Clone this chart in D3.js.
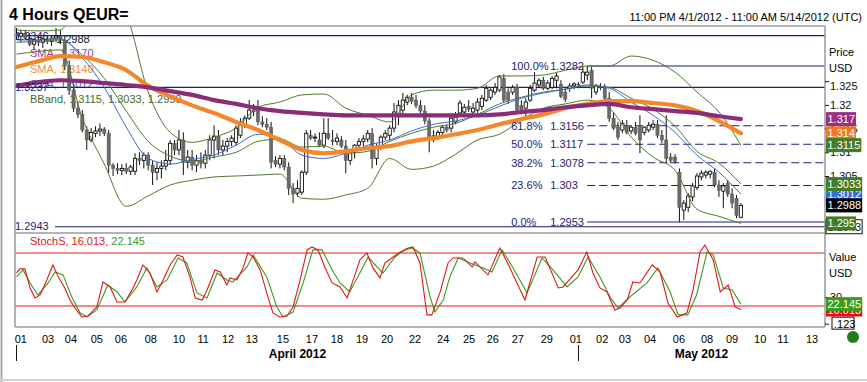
<!DOCTYPE html>
<html><head><meta charset="utf-8">
<script src="https://cdn.jsdelivr.net/npm/d3@7"></script>
<style>body{margin:0;background:#fff}svg{display:block;font-family:"Liberation Sans",Arial,sans-serif}</style>
</head><body><svg id="c" width="867" height="382"></svg>
<script>
// ---- data ----
const candles = [ // [open, high, low, close]
[1.3349,1.3362,1.3337,1.3345],[1.3345,1.3358,1.3332,1.3351],[1.3351,1.3358,1.3337,1.3341],[1.3341,1.3351,1.3324,1.3328],
[1.3328,1.3341,1.3316,1.3337],[1.3337,1.3345,1.3324,1.3332],[1.3332,1.3341,1.3320,1.3339],[1.3339,1.3345,1.3328,1.3334],
[1.3334,1.3347,1.3324,1.3341],[1.3341,1.3362,1.3332,1.3345],[1.3345,1.3358,1.3328,1.3337],[1.3337,1.3345,1.3273,1.3282],
[1.3282,1.3294,1.3221,1.3231],[1.3231,1.3242,1.3185,1.3193],[1.3193,1.3206,1.3172,1.3180],[1.3180,1.3189,1.3142,1.3147],
[1.3147,1.3155,1.3105,1.3126],[1.3126,1.3151,1.3121,1.3142],[1.3140,1.3155,1.3132,1.3145],[1.3145,1.3161,1.3134,1.3149],
[1.3149,1.3153,1.3134,1.3140],[1.3140,1.3147,1.3056,1.3073],[1.3073,1.3077,1.3050,1.3066],[1.3066,1.3077,1.3054,1.3062],
[1.3062,1.3075,1.3052,1.3066],[1.3066,1.3077,1.3054,1.3060],[1.3060,1.3073,1.3052,1.3069],[1.3060,1.3098,1.3052,1.3087],
[1.3087,1.3100,1.3073,1.3083],[1.3083,1.3100,1.3066,1.3094],[1.3094,1.3100,1.3062,1.3073],[1.3073,1.3083,1.3031,1.3058],
[1.3058,1.3079,1.3041,1.3066],[1.3066,1.3083,1.3045,1.3071],[1.3071,1.3105,1.3062,1.3083],[1.3083,1.3126,1.3073,1.3119],
[1.3119,1.3126,1.3094,1.3105],[1.3105,1.3147,1.3094,1.3126],[1.3126,1.3142,1.3052,1.3079],[1.3079,1.3105,1.3066,1.3090],
[1.3090,1.3105,1.3062,1.3073],[1.3073,1.3094,1.3058,1.3083],[1.3083,1.3100,1.3066,1.3077],[1.3077,1.3105,1.3066,1.3094],
[1.3094,1.3136,1.3083,1.3126],[1.3126,1.3157,1.3087,1.3134],[1.3134,1.3147,1.3094,1.3105],[1.3105,1.3126,1.3094,1.3113],
[1.3113,1.3130,1.3100,1.3123],[1.3123,1.3136,1.3113,1.3130],[1.3121,1.3157,1.3113,1.3151],[1.3136,1.3172,1.3130,1.3164],
[1.3157,1.3178,1.3151,1.3172],[1.3172,1.3210,1.3168,1.3189],[1.3189,1.3202,1.3176,1.3185],[1.3195,1.3210,1.3157,1.3164],
[1.3164,1.3176,1.3153,1.3159],[1.3159,1.3172,1.3147,1.3153],[1.3153,1.3164,1.3066,1.3079],[1.3083,1.3092,1.3069,1.3075],
[1.3075,1.3094,1.3066,1.3087],[1.3087,1.3094,1.3062,1.3069],[1.3069,1.3079,1.3010,1.3024],[1.3024,1.3035,1.2993,1.3012],
[1.3014,1.3041,1.3006,1.3024],[1.3016,1.3062,1.3010,1.3058],[1.3058,1.3147,1.3052,1.3140],[1.3136,1.3147,1.3126,1.3130],
[1.3130,1.3140,1.3121,1.3132],[1.3126,1.3142,1.3111,1.3115],[1.3115,1.3172,1.3109,1.3140],[1.3140,1.3172,1.3126,1.3130],
[1.3126,1.3147,1.3115,1.3123],[1.3123,1.3140,1.3115,1.3130],[1.3126,1.3134,1.3109,1.3113],[1.3113,1.3126,1.3056,1.3083],
[1.3083,1.3105,1.3073,1.3100],[1.3100,1.3117,1.3087,1.3115],[1.3115,1.3130,1.3109,1.3123],[1.3123,1.3136,1.3113,1.3128],
[1.3128,1.3147,1.3121,1.3140],[1.3140,1.3151,1.3066,1.3087],[1.3087,1.3119,1.3073,1.3111],[1.3111,1.3136,1.3105,1.3132],
[1.3132,1.3147,1.3126,1.3140],[1.3136,1.3157,1.3126,1.3151],[1.3151,1.3204,1.3142,1.3185],[1.3178,1.3210,1.3157,1.3199],
[1.3189,1.3225,1.3180,1.3210],[1.3206,1.3221,1.3199,1.3216],[1.3216,1.3225,1.3202,1.3208],[1.3210,1.3221,1.3193,1.3199],
[1.3199,1.3210,1.3183,1.3187],[1.3187,1.3199,1.3159,1.3166],[1.3166,1.3172,1.3100,1.3130],[1.3136,1.3147,1.3121,1.3126],
[1.3132,1.3147,1.3126,1.3142],[1.3142,1.3157,1.3136,1.3153],[1.3153,1.3159,1.3142,1.3147],[1.3151,1.3178,1.3142,1.3172],
[1.3164,1.3185,1.3159,1.3174],[1.3183,1.3210,1.3176,1.3204],[1.3185,1.3202,1.3178,1.3195],[1.3197,1.3210,1.3185,1.3191],
[1.3185,1.3204,1.3178,1.3193],[1.3189,1.3214,1.3183,1.3206],[1.3197,1.3221,1.3189,1.3214],[1.3210,1.3242,1.3206,1.3235],
[1.3216,1.3235,1.3210,1.3231],[1.3227,1.3246,1.3221,1.3237],[1.3231,1.3263,1.3227,1.3259],[1.3256,1.3265,1.3206,1.3210],
[1.3227,1.3235,1.3202,1.3210],[1.3227,1.3242,1.3221,1.3237],[1.3237,1.3244,1.3183,1.3189],[1.3199,1.3210,1.3180,1.3185],
[1.3193,1.3214,1.3172,1.3206],[1.3210,1.3242,1.3206,1.3235],[1.3231,1.3269,1.3227,1.3246],[1.3242,1.3256,1.3235,1.3252],
[1.3252,1.3259,1.3231,1.3235],[1.3235,1.3252,1.3231,1.3246],[1.3237,1.3261,1.3233,1.3256],[1.3252,1.3267,1.3235,1.3261],
[1.3244,1.3252,1.3214,1.3218],[1.3227,1.3235,1.3206,1.3212],[1.3235,1.3246,1.3227,1.3240],[1.3240,1.3248,1.3233,1.3244],
[1.3244,1.3248,1.3235,1.3242],[1.3248,1.3280,1.3244,1.3269],[1.3263,1.3282,1.3252,1.3269],[1.3273,1.3280,1.3214,1.3235],
[1.3227,1.3244,1.3221,1.3240],[1.3240,1.3246,1.3231,1.3237],[1.3237,1.3244,1.3210,1.3214],[1.3214,1.3227,1.3164,1.3172],
[1.3172,1.3185,1.3147,1.3151],[1.3153,1.3164,1.3126,1.3132],[1.3147,1.3168,1.3140,1.3161],[1.3157,1.3168,1.3138,1.3142],
[1.3145,1.3157,1.3138,1.3153],[1.3153,1.3164,1.3136,1.3140],[1.3157,1.3178,1.3098,1.3126],[1.3142,1.3155,1.3136,1.3153],
[1.3147,1.3164,1.3142,1.3157],[1.3153,1.3168,1.3147,1.3159],[1.3159,1.3168,1.3130,1.3136],[1.3136,1.3147,1.3119,1.3126],
[1.3126,1.3178,1.3079,1.3087],[1.3090,1.3098,1.3077,1.3083],[1.3090,1.3096,1.3077,1.3081],[1.3058,1.3066,1.2953,1.2984],
[1.2978,1.2999,1.2957,1.2993],[1.2984,1.3014,1.2974,1.3008],[1.3006,1.3035,1.2997,1.3029],[1.3026,1.3056,1.3020,1.3050],
[1.3048,1.3062,1.3041,1.3056],[1.3052,1.3062,1.3045,1.3058],[1.3054,1.3062,1.3045,1.3060],[1.3058,1.3066,1.3026,1.3031],
[1.3031,1.3041,1.3006,1.3020],[1.3018,1.3035,1.2982,1.3029],[1.3035,1.3041,1.3006,1.3012],[1.3012,1.3024,1.2982,1.2993],
[1.3003,1.3010,1.2961,1.2967],[1.2963,1.2993,1.2961,1.2988]
];
// indicator lines, read every 5 bars
const indIdx = [0,5,10,15,20,25,30,35,40,45,50,55,60,65,70,75,80,85,90,95,100,105,110,115,120,125,130,135,140,145,150,155,160,165];
const smaSlow = [1.3240,1.3248,1.3252,1.3250,1.3246,1.3242,1.3237,1.3229,1.3221,1.3210,1.3202,1.3193,1.3187,1.3183,1.3180,1.3178,1.3178,1.3178,1.3178,1.3178,1.3178,1.3178,1.3180,1.3185,1.3189,1.3195,1.3199,1.3202,1.3195,1.3191,1.3187,1.3183,1.3176,1.3170];
const smaMid = [1.3280,1.3292,1.3303,1.3301,1.3290,1.3273,1.3240,1.3218,1.3199,1.3183,1.3164,1.3147,1.3126,1.3105,1.3098,1.3102,1.3109,1.3113,1.3123,1.3130,1.3138,1.3147,1.3159,1.3170,1.3180,1.3193,1.3202,1.3208,1.3208,1.3204,1.3199,1.3187,1.3166,1.3140];
const smaFast = [1.3337,1.3337,1.3339,1.3299,1.3237,1.3153,1.3087,1.3075,1.3085,1.3094,1.3115,1.3138,1.3130,1.3094,1.3087,1.3098,1.3115,1.3126,1.3145,1.3159,1.3166,1.3178,1.3197,1.3214,1.3225,1.3233,1.3242,1.3235,1.3206,1.3178,1.3142,1.3094,1.3058,1.3012];
const bbUpper = [1.3358,1.3356,1.3358,1.3427,1.3434,1.3389,1.3227,1.3142,1.3121,1.3132,1.3151,1.3195,1.3206,1.3221,1.3223,1.3193,1.3178,1.3164,1.3221,1.3231,1.3231,1.3235,1.3261,1.3261,1.3263,1.3273,1.3282,1.3282,1.3303,1.3294,1.3269,1.3227,1.3185,1.3115];
const bbMiddle = [1.3332,1.3334,1.3337,1.3305,1.3256,1.3187,1.3123,1.3092,1.3081,1.3090,1.3100,1.3123,1.3128,1.3111,1.3113,1.3098,1.3102,1.3123,1.3140,1.3153,1.3161,1.3180,1.3202,1.3216,1.3227,1.3233,1.3240,1.3237,1.3214,1.3191,1.3155,1.3102,1.3077,1.3033];
const bbLower = [1.3307,1.3313,1.3316,1.3172,1.3075,1.2986,1.3008,1.3031,1.3041,1.3048,1.3050,1.3052,1.3054,1.3003,1.3001,1.3010,1.3024,1.3087,1.3064,1.3071,1.3096,1.3126,1.3138,1.3168,1.3193,1.3202,1.3210,1.3193,1.3132,1.3090,1.3062,1.2980,1.2965,1.2950];
const stochK = [[0,57.4],[0.8,62],[1.9,62],[3.1,40.4],[4.2,29],[5.4,32.5],[6.9,49.5],[8.3,66.5],[9.5,53],[11,40.4],[12.2,26.8],[13.3,17.8],[14.9,7.6],[16.3,8.7],[18.3,18.9],[19.7,47.2],[21.3,41.6],[22.9,24.6],[24.7,24.6],[26.3,38.2],[27.4,49.5],[28.8,66.5],[30.4,57.4],[32,35.9],[33.4,49.5],[35,66.5],[36.6,77.8],[37.9,75.5],[39.5,52.9],[40.7,29.1],[42.3,26.8],[43.4,38.2],[45.2,60.8],[46.4,58.5],[47.9,43.8],[48.6,51.8],[50.2,49.5],[51.6,63.1],[52.7,80.1],[53.9,75.5],[55.5,60.8],[57,34.8],[58.4,12.1],[60,7.6],[61.6,8.7],[63,18.9],[64.6,49.5],[66.2,83.5],[67.3,86.9],[68.7,83.5],[70.3,63.1],[71.9,46.1],[73.7,41.6],[75.3,29.1],[76.7,49.5],[78.2,72.1],[79.8,80.1],[81.2,63.1],[82.8,51.8],[83.9,68.7],[85.8,75.5],[87.4,81.2],[89.2,85.7],[90.3,86.9],[91.9,68.7],[93.5,9.9],[94.6,9.9],[96.5,35.9],[98.3,68.7],[99.4,74.4],[101.7,74.4],[103.8,64.2],[104.4,69.9],[107.4,55.2],[110.1,85.7],[112.4,63.1],[115.8,26.8],[118.6,75.5],[120.4,75.5],[123.4,40.4],[124.5,41.6],[126.5,52.9],[127.9,60.8],[129.9,81.2],[131.3,57.4],[132.9,40.4],[134.5,35.9],[136.3,15.5],[137.5,17.8],[139.1,26.8],[140.4,47.2],[142,46.1],[144.8,66.5],[146.6,58.5],[148.4,23.4],[150.5,7.6],[152.7,12.1],[154.1,38.2],[155.7,81.2],[156.8,89.1],[158.7,72.1],[160.3,35.9],[162.1,43.8],[163.7,18.9],[165,16.013]];
const stochD = [[0,52.9],[1.5,60.8],[3.1,46.1],[4.9,32.5],[7.2,46.1],[8.8,58.5],[10.6,55.2],[12.6,30.2],[14.5,12.1],[16.1,7.6],[18.3,15.5],[20.8,43.8],[22.9,35.9],[24.7,24.6],[27.4,41.6],[29.7,63.1],[32,41.6],[34.3,49.5],[36.8,74.4],[38.8,68.7],[41.1,34.8],[43.4,29.1],[45.7,57.4],[47.9,49.5],[49.3,47.2],[52.5,64.2],[53.9,77.8],[57,52.9],[59.3,18.9],[60.7,7.6],[63,13.2],[65.3,46.1],[67.5,83.5],[69.6,83.5],[71.9,60.8],[73.7,46.1],[75.9,35.9],[78.2,57.4],[80.1,75.5],[82.1,64.2],[83.5,57.4],[86.2,75.5],[88.5,83.5],[90.1,85.7],[91.9,80.1],[94.2,30.2],[95.3,13.2],[97.2,26.8],[98.7,52.9],[100.6,74.4],[103.3,68.7],[106.3,63.1],[108.3,58.5],[110.6,83.5],[113.1,63.1],[116.3,34.8],[119.7,74.4],[122.2,60.8],[125.4,41.6],[127.9,52.9],[130.2,75.5],[132.9,52.9],[135.2,30.2],[137,17.8],[139.7,30.2],[143.6,46.1],[146.1,63.1],[148.9,35.9],[150.7,9.9],[152.9,9.9],[154.9,32.5],[157.3,81.2],[158.7,77.8],[161,40.4],[163,38.2],[165,22.145]];
const stochLevels = [80, 20];
const hLines = [1.3346, 1.3237, 1.2943];
const fibPct = ["100.0%","61.8%","50.0%","38.2%","23.6%","0.0%"];
const fibVal = [1.3282,1.3156,1.3117,1.3078,1.303,1.2953];
const fibStartIdx = 130;
const priceTicks = [1.305,1.31,1.315,1.32,1.325];
const dayLabels = ["01","03","04","05","06","08","10","11","12","13","15","17","18","19","20","22","24","25","26","27","29","01","02","03","04","06","08","09","10","11","13"];
const dayIdx = [1.0,7.2,12.4,18.3,23.8,30.6,37.0,42.5,48.2,53.6,60.7,67.3,73.0,78.7,84.4,90.8,97.2,103.1,108.5,114.2,120.8,127.4,133.4,138.6,144.3,150.9,157.3,163.0,169.4,174.6,181.2];
const monthLabels = ["April 2012","May 2012"];
const monthLabelIdx = [64, 156];
const monthStartIdx = [0, 128];

// ---- drawing ----
const svg = d3.select("#c");
const fmt = d3.format(".4~f");
const NAVY = "#1c1c74";
const x = d3.scaleLinear().domain([0,165]).range([16.5,740.9]);
const y = d3.scaleLinear().domain([1.2953,1.3282]).range([222,66]);
const ys = d3.scaleLinear().domain([20,80]).range([306,253]);
const L=15, R=825, T=26, MB=233, SB=327;

const defs = svg.append("defs");
defs.append("clipPath").attr("id","cpM").append("rect").attr("x",L).attr("y",T).attr("width",R-L).attr("height",MB-T);
defs.append("clipPath").attr("id","cpS").append("rect").attr("x",L).attr("y",MB).attr("width",R-L).attr("height",SB-MB);

// outer frame
svg.append("line").attr("x1",1.5).attr("x2",1.5).attr("y1",0).attr("y2",382).attr("stroke","#a8a8a8").attr("stroke-width",2);
svg.append("line").attr("x1",0).attr("x2",867).attr("y1",380).attr("y2",380).attr("stroke","#d0d0d0").attr("stroke-width",2);

// titles
svg.append("text").attr("x",9).attr("y",20).attr("font-size",16).attr("font-weight","bold").text("4 Hours QEUR=");
svg.append("text").attr("x",862).attr("y",21).attr("font-size",11).attr("text-anchor","end").text("11:00 PM 4/1/2012 - 11:00 AM 5/14/2012 (UTC)");

// legend texts (under chart marks)
const leg = svg.append("g").attr("font-size",11);
leg.append("text").attr("x",56).attr("y",43).attr("fill","#111").text("1.2988");
leg.append("text").attr("x",30).attr("y",57).attr("fill","#a0407e").text("SMA, " + fmt(smaSlow[smaSlow.length-1]).padEnd(6,"0"));
leg.append("text").attr("x",30).attr("y",73).attr("fill","#e8903a").text("SMA, " + fmt(smaMid[smaMid.length-1]).padEnd(6,"0"));
leg.append("text").attr("x",30).attr("y",88).attr("fill","#3f63d6").text("SMA, " + fmt(smaFast[smaFast.length-1]));
leg.append("text").attr("x",30).attr("y",103).attr("fill","#45692b").text("BBand, " + [bbUpper,bbMiddle,bbLower].map(a=>fmt(a[a.length-1]).padEnd(6,"0")).join(", "));

const main = svg.append("g").attr("clip-path","url(#cpM)");

// horizontal navy lines
hLines.forEach((v,i)=>{
  main.append("line").attr("x1", i===2?55:L).attr("x2",R).attr("y1",y(v)).attr("y2",y(v)).attr("stroke",NAVY).attr("stroke-width",1.2);
  svg.append("text").attr("x",15).attr("y",y(v)+ (i===2?3.5:4)).attr("font-size",11).attr("fill",NAVY).text(fmt(v));
});

// fibonacci
fibVal.forEach((v,i)=>{
  const solid = (i===0 || i===fibVal.length-1);
  main.append("line").attr("x1",x(fibStartIdx)).attr("x2",R).attr("y1",y(v)).attr("y2",y(v))
    .attr("stroke",NAVY).attr("stroke-width",1.2).attr("stroke-dasharray", solid?null:"8,4");
  svg.append("text").attr("x",x(fibStartIdx)-76).attr("y",y(v)+4).attr("font-size",11).attr("fill",NAVY).text(fibPct[i]);
  svg.append("text").attr("x",x(fibStartIdx)-37).attr("y",y(v)+4).attr("font-size",11).attr("fill",NAVY).text(fmt(v));
});

// candles
const cg = main.append("g");
candles.forEach((c,i)=>{
  const [o,h,l,cl] = c; const up = cl>=o;
  cg.append("line").attr("x1",x(i)).attr("x2",x(i)).attr("y1",y(h)).attr("y2",y(l)).attr("stroke","#111").attr("stroke-width",1);
  const top = y(Math.max(o,cl)), bot = y(Math.min(o,cl));
  cg.append("rect").attr("x",x(i)-1.6).attr("y",top).attr("width",3.2).attr("height",Math.max(1,bot-top))
    .attr("fill", up?"#fff":"#6a6a6a").attr("stroke", up?"#111":"#555").attr("stroke-width", up?0.9:0.5);
});

// indicator lines
const lineGen = d3.line().x((d,i)=>x(indIdx[i])).y(d=>y(d)).curve(d3.curveMonotoneX);
[bbUpper,bbMiddle,bbLower].forEach(a=>main.append("path").attr("d",lineGen(a)).attr("fill","none").attr("stroke","#4f7a2e").attr("stroke-width",1));
main.append("path").attr("d",lineGen(smaFast)).attr("fill","none").attr("stroke","#3a6ad8").attr("stroke-width",1);
main.append("path").attr("d",lineGen(smaMid)).attr("fill","none").attr("stroke","#f5862a").attr("stroke-width",4.2).attr("stroke-linecap","round");
main.append("path").attr("d",lineGen(smaSlow)).attr("fill","none").attr("stroke","#8b2c78").attr("stroke-width",4.2).attr("stroke-linecap","round");

// stoch panel
const st = svg.append("g").attr("clip-path","url(#cpS)");
stochLevels.forEach(v=>st.append("line").attr("x1",L).attr("x2",R).attr("y1",ys(v)).attr("y2",ys(v)).attr("stroke","#e01818").attr("stroke-width",1.2));
const sLine = d3.line().x(d=>x(d[0])).y(d=>ys(d[1]));
st.append("path").attr("d",sLine(stochD)).attr("fill","none").attr("stroke","#3c9a22").attr("stroke-width",1.1);
st.append("path").attr("d",sLine(stochK)).attr("fill","none").attr("stroke","#e01818").attr("stroke-width",1.1);
const sl = svg.append("text").attr("x",30).attr("y",245).attr("font-size",11);
sl.append("tspan").attr("fill","#d42020").text("StochS, " + d3.format(".3f")(stochK[stochK.length-1][1]) + ", ");
sl.append("tspan").attr("fill","#3c9a22").text(d3.format(".3f")(stochD[stochD.length-1][1]));

// frames
const fr = svg.append("g").attr("stroke","#9a9a9a").attr("stroke-width",1.5);
fr.append("line").attr("x1",L).attr("x2",R).attr("y1",T).attr("y2",T);
fr.append("line").attr("x1",L).attr("x2",R).attr("y1",MB).attr("y2",MB);
fr.append("line").attr("x1",L).attr("x2",R).attr("y1",SB).attr("y2",SB);
fr.append("line").attr("x1",L).attr("x2",L).attr("y1",T).attr("y2",SB);
fr.append("line").attr("x1",R).attr("x2",R).attr("y1",T).attr("y2",SB);

// right price axis
const ax = svg.append("g").attr("transform",`translate(${R},0)`)
  .call(d3.axisRight(y).tickValues(priceTicks).tickFormat(fmt).tickSize(4).tickPadding(1));
ax.select(".domain").remove();
ax.selectAll("text").attr("font-size",11).attr("font-family","Liberation Sans, Arial").attr("fill","#111")
  .attr("dy", d => d===1.325 ? "0.75em" : "0.32em");
ax.selectAll("line").attr("stroke","#111");
svg.append("text").attr("x",829).attr("y",56).attr("font-size",11).text("Price");
svg.append("text").attr("x",829).attr("y",72).attr("font-size",11).text("USD");

function valBox(yy, txt, fill, color, stroke){
  const g = svg.append("g");
  const r = g.append("rect").attr("x",826).attr("y",yy-7).attr("height",14).attr("fill",fill);
  const t = g.append("text").attr("x",827.5).attr("y",yy+4).attr("font-size",11).attr("fill",color).text(txt);
  const w = t.node().getComputedTextLength()+2.5;
  r.attr("width",w);
  if(stroke) r.attr("stroke",stroke).attr("stroke-width",1);
}
valBox(y(smaSlow[smaSlow.length-1]), fmt(smaSlow[smaSlow.length-1]), "#9a2f86", "#fff");
valBox(y(smaMid[smaMid.length-1]), fmt(smaMid[smaMid.length-1]), "#f07818", "#fff");
valBox(y(bbUpper[bbUpper.length-1]), fmt(bbUpper[bbUpper.length-1]), "#437c27", "#fff");
valBox(y(smaFast[smaFast.length-1]), fmt(smaFast[smaFast.length-1]), "#2f6fd6", "#fff");
valBox(y(bbMiddle[bbMiddle.length-1]), fmt(bbMiddle[bbMiddle.length-1]), "#437c27", "#fff");
valBox(y(candles[candles.length-1][3]), fmt(candles[candles.length-1][3]), "#000", "#fff");
valBox(y(hLines[2]), fmt(hLines[2]), "#fff", "#111", "#111");
valBox(y(bbLower[bbLower.length-1]), fmt(bbLower[bbLower.length-1]), "#437c27", "#fff");

// stoch right axis
svg.append("text").attr("x",829).attr("y",261).attr("font-size",11).text("Value");
svg.append("text").attr("x",829).attr("y",277).attr("font-size",11).text("USD");
const ax2 = svg.append("g").attr("transform",`translate(${R},0)`)
  .call(d3.axisRight(ys).tickValues([0,30]).tickFormat(d=>d===0?"":d).tickSize(4).tickPadding(1));
ax2.select(".domain").remove();
ax2.selectAll("text").attr("font-size",11).attr("font-family","Liberation Sans, Arial").attr("fill","#111");
ax2.selectAll("line").attr("stroke","#111");
svg.append("rect").attr("x",832).attr("y",ys(0)-6.5).attr("width",22).attr("height",12).attr("fill","#fff").attr("stroke","#111");
svg.append("text").attr("x",834).attr("y",ys(0)+4).attr("font-size",11).text(".123");
valBox(ys(stochK[stochK.length-1][1]), d3.format(".3f")(stochK[stochK.length-1][1]), "#e01010", "#fff");
valBox(ys(stochD[stochD.length-1][1]), d3.format(".3f")(stochD[stochD.length-1][1]), "#3c9a1c", "#fff");

// x axis labels
dayLabels.forEach((d,i)=>{
  svg.append("text").attr("x",x(dayIdx[i])).attr("y",343).attr("font-size",11).attr("text-anchor","middle").text(d);
});
monthLabels.forEach((m,i)=>{
  svg.append("text").attr("x",x(monthLabelIdx[i])).attr("y",358).attr("font-size",12).attr("font-weight","bold").attr("text-anchor","middle").text(m);
  svg.append("line").attr("x1",x(monthStartIdx[i])).attr("x2",x(monthStartIdx[i])).attr("y1",345).attr("y2",361).attr("stroke","#111");
});
svg.append("circle").attr("cx",853).attr("cy",337).attr("r",6).attr("fill","#1b7d1b");
</script></body></html>
